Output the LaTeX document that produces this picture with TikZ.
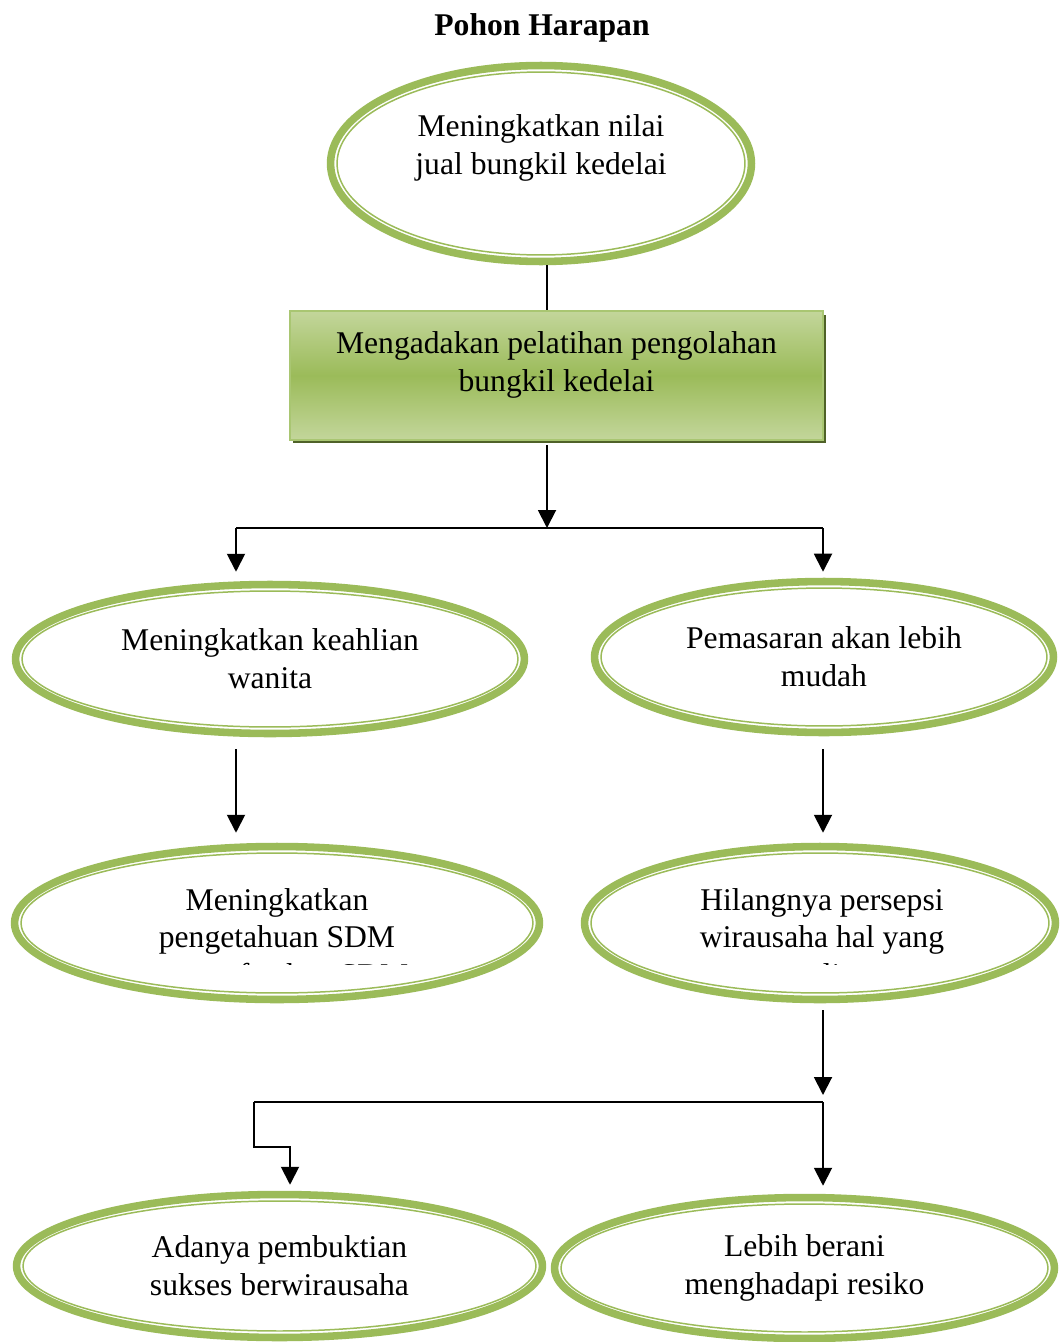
\documentclass[tikz,border=0pt]{standalone}
\usepackage{fontspec}
\setmainfont{Liberation Serif}
\usetikzlibrary{shapes.geometric,arrows.meta,calc,shadows}
\definecolor{ovalgreen}{HTML}{9BBB59}
\definecolor{boxlight}{HTML}{C3D69B}
\definecolor{boxedge}{HTML}{A9C672}
\definecolor{boxshadow}{HTML}{4F6228}

\begin{document}
\begin{tikzpicture}[x=0.02cm, y=-0.02cm,
  every node/.style={font=\fontsize{18}{21.5}\selectfont, align=center},
  oval/.style={ellipse, draw=ovalgreen, line width=4.3pt, fill=white, inner sep=0pt,
    path picture={\draw[ovalgreen, line width=0.85pt]
      let \p1=(path picture bounding box.north east), \p2=(path picture bounding box.center)
      in (\p2) ellipse [x radius=\x1-\x2-3.7pt, y radius=\y1-\y2-3.7pt];}},
  kotak/.style={rectangle, draw=boxedge, line width=1.2pt, top color=boxlight, bottom color=boxlight, middle color=ovalgreen,
    drop shadow={shadow xshift=0.06cm, shadow yshift=-0.07cm, fill=boxshadow, opacity=1}},
  arr/.style={-{Triangle[width=0.36cm,length=0.36cm]}, line width=1.1pt},
  garis/.style={line width=1.1pt}]
\useasboundingbox (0,0) rectangle (1059,1342);

\node (judul) at (542,28) {\bfseries Pohon Harapan};
\node[oval, minimum width=8.42cm, minimum height=3.92cm] (nilai) at (541,163.5) {Meningkatkan nilai\\jual bungkil kedelai\\\mbox{}};
\node[kotak, minimum width=10.66cm, minimum height=2.58cm] (pelatihan) at (556.5,375.5) {Mengadakan pelatihan pengolahan\\bungkil kedelai\\[-6pt]\mbox{}};
\node[oval, minimum width=10.18cm, minimum height=2.98cm] (keahlian) at (270,659) {Meningkatkan keahlian\\wanita};
\node[oval, minimum width=9.18cm, minimum height=3.02cm] (pemasaran) at (824,657) {Pemasaran akan lebih\\mudah};
\node[oval, minimum width=10.5cm, minimum height=3.06cm] (sdm) at (277,923) {};
\node[oval, minimum width=9.42cm, minimum height=3.06cm] (persepsi) at (820,923) {};
\node[oval, minimum width=10.52cm, minimum height=2.86cm] (bukti) at (279.5,1266) {Adanya pembuktian\\sukses berwirausaha};
\node[oval, minimum width=10cm, minimum height=2.82cm] (berani) at (804.5,1268) {Lebih berani\\menghadapi resiko};

\begin{scope}
  \clip (0,850) rectangle (1059,964);
  \node (sdmteks) at (277,937) {Meningkatkan\\pengetahuan SDM\\memanfaatkan SDM};
  \node (persepsiteks) at (822,937) {Hilangnya persepsi\\wirausaha hal yang\\sulit};
\end{scope}

\coordinate (cabang) at (547,528);
\coordinate (kiri) at (236,528);
\coordinate (kanan) at (823,528);
\coordinate (cabang2) at (823,1102);
\coordinate (kiri2) at (254,1102);
\coordinate (belok) at (290,1147);

\draw[line width=0.8pt] (cabang |- nilai.south) -- (cabang |- pelatihan.north);
\draw[arr, shorten <=0.08cm] (cabang |- pelatihan.south) -- (cabang);
\draw[garis] (kiri) -- (kanan);
\draw[arr, shorten >=0.18cm] (kiri) -- (kiri |- keahlian.north);
\draw[arr, shorten >=0.12cm] (kanan) -- (kanan |- pemasaran.north);
\draw[arr, shorten <=0.24cm, shorten >=0.2cm] (kiri |- keahlian.south) -- (kiri |- sdm.north);
\draw[arr, shorten <=0.26cm, shorten >=0.2cm] (kanan |- pemasaran.south) -- (kanan |- persepsi.north);
\draw[arr, shorten <=0.14cm, shorten >=0.14cm] (cabang2 |- persepsi.south) -- (cabang2);
\draw[garis] (kiri2) -- (cabang2);
\draw[arr, shorten >=0.12cm] (kiri2) |- (belok) -- (belok |- bukti.north);
\draw[arr, shorten >=0.16cm] (cabang2) -- (cabang2 |- berani.north);
\end{tikzpicture}
\end{document}
